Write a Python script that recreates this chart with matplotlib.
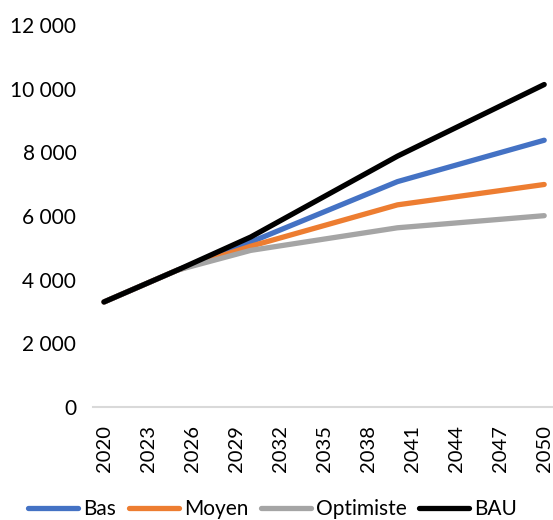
import matplotlib.pyplot as plt
from matplotlib.ticker import FuncFormatter

years = [2020, 2025, 2030, 2040, 2050]
bas = [3300, 4300, 5180, 7080, 8380]
moyen = [3300, 4300, 5050, 6350, 6990]
optimiste = [3300, 4300, 4920, 5630, 6010]
bau = [3300, 4300, 5340, 7880, 10130]

tick_years = list(range(2020, 2051, 3))

plt.rcParams['font.family'] = ['Lato', 'DejaVu Sans']

fig = plt.figure(figsize=(5.53, 5.2), dpi=100)
ax = fig.add_axes([93/553, 113/520, 1 - 93/553, (407-25)/520])

series = [("Bas", bas, "#4472C4"), ("Moyen", moyen, "#ED7D31"),
          ("Optimiste", optimiste, "#A5A5A5"), ("BAU", bau, "#000000")]
for name, vals, col in series:
    ax.plot(years, vals, color=col, lw=3.8, solid_capstyle='round',
            solid_joinstyle='round', label=name)

ax.set_xlim(2019.25, 2050.6)
ax.set_ylim(0, 12000)
ax.set_yticks(range(0, 12001, 2000))
ax.yaxis.set_major_formatter(FuncFormatter(lambda v, p: f"{v:,.0f}".replace(",", " ")))
ax.set_xticks(tick_years)
ax.set_xticklabels([str(y) for y in tick_years], rotation=90)
ax.tick_params(axis='y', length=0, pad=12, labelsize=15, colors='black')
ax.tick_params(axis='x', length=0, pad=13, labelsize=14.5, colors='black')

for s in ['top', 'right', 'left']:
    ax.spines[s].set_visible(False)
ax.spines['bottom'].set_color('#D9D9D9')
ax.spines['bottom'].set_linewidth(1.5)

fig.legend(loc='center', bbox_to_anchor=(0.493, 11/520), ncol=4, frameon=False,
           fontsize=15, handlelength=2.4, handletextpad=0.25, columnspacing=0.6,
           borderpad=0.1)

fig.savefig("out.png", dpi=100)
